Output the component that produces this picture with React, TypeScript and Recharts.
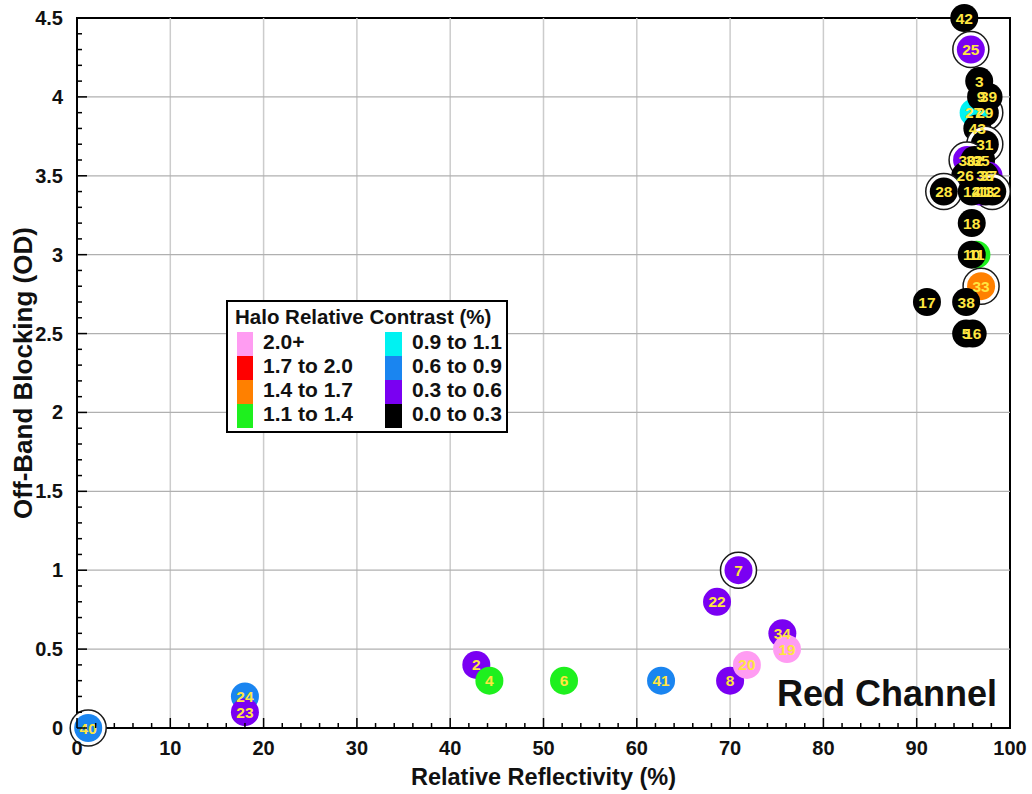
import React from 'react';
import { ScatterChart, Scatter, XAxis, YAxis, ReferenceLine, ReferenceArea, Label } from 'recharts';

// ---- data ----
const sampleLabels = ['42','25','3','29','27','9','39','43','31','30','32','35','37','26','36','28','12','21','14','13','18','11','10','33','17','38','5','16','7','22','34','19','8','20','41','6','2','4','24','23','40'];
const reflectivity = [95.1,95.8,96.7,97.3,96.1,96.9,97.7,96.5,97.3,95.4,96.2,96.9,97.7,95.2,97.3,92.9,98.1,96.8,95.9,97.4,95.9,96.4,95.9,96.9,91.1,95.3,95.3,96.0,70.9,68.6,75.6,76.1,70.0,71.8,62.6,52.2,42.8,44.2,18.0,18.0,1.2];
const blocking = [4.5,4.3,4.1,3.9,3.9,4.0,4.0,3.8,3.7,3.6,3.6,3.6,3.5,3.5,3.5,3.4,3.4,3.4,3.4,3.4,3.2,3.0,3.0,2.8,2.7,2.7,2.5,2.5,1.0,0.8,0.6,0.5,0.3,0.4,0.3,0.3,0.4,0.3,0.2,0.1,0.0];
// index into contrastCategories
const contrastGroup = [7,6,7,7,4,7,7,7,7,6,7,7,6,7,7,7,7,6,7,7,7,3,7,2,7,7,7,7,6,6,6,0,6,0,5,3,6,3,5,6,5];
const haloRing = [0,1,0,1,0,0,0,0,1,1,0,0,0,0,0,1,1,0,0,0,0,0,0,1,0,0,0,0,1,0,0,0,0,0,0,0,0,0,0,0,1];

const contrastCategories = ['2.0+','1.7 to 2.0','1.4 to 1.7','1.1 to 1.4','0.9 to 1.1','0.6 to 0.9','0.3 to 0.6','0.0 to 0.3'];
const categoryColors = ['#ff9cf2','#ff0000','#ff8000','#1ef01e','#00f2f2','#1a85f0','#7a00f2','#000000'];

const xMajorTicks = [0,10,20,30,40,50,60,70,80,90,100];
const xAllTicks = [0,2,4,6,8,10,12,14,16,18,20,22,24,26,28,30,32,34,36,38,40,42,44,46,48,50,52,54,56,58,60,62,64,66,68,70,72,74,76,78,80,82,84,86,88,90,92,94,96,98,100];
const yMajorTicks = [0,0.5,1,1.5,2,2.5,3,3.5,4,4.5];
const yAllTicks = [0,0.1,0.2,0.3,0.4,0.5,0.6,0.7,0.8,0.9,1,1.1,1.2,1.3,1.4,1.5,1.6,1.7,1.8,1.9,2,2.1,2.2,2.3,2.4,2.5,2.6,2.7,2.8,2.9,3,3.1,3.2,3.3,3.4,3.5,3.6,3.7,3.8,3.9,4,4.1,4.2,4.3,4.4,4.5];

const points = sampleLabels.map((label, i) => ({
  label,
  x: reflectivity[i],
  y: blocking[i],
  group: contrastGroup[i],
  halo: haloRing[i],
}));

const FONT = '"Liberation Sans", Arial, sans-serif';

const CircleShape = (props: any) => {
  const { cx, cy, payload } = props;
  if (cx == null || cy == null) return null;
  return (
    <g>
      {payload.halo ? <circle cx={cx} cy={cy} r={18} fill="#ffffff" stroke="#1a1a1a" strokeWidth={1.5} /> : null}
      <circle cx={cx} cy={cy} r={14} fill={categoryColors[payload.group]} />
    </g>
  );
};

const LabelShape = (props: any) => {
  const { cx, cy, payload } = props;
  if (cx == null || cy == null) return null;
  return (
    <text x={cx} y={cy + 5.5} textAnchor="middle" fontSize={15.5} fontWeight="bold" fill="#ffe640" fontFamily={FONT}>
      {payload.label}
    </text>
  );
};

const XTick = (props: any) => {
  const { x, y, payload } = props;
  const v = payload.value;
  const major = xMajorTicks.includes(v);
  return (
    <g>
      <line x1={x} x2={x} y1={y} y2={y - (major ? 10 : 5)} stroke="#000" strokeWidth={1.5} />
      {major ? (
        <text x={x} y={y + 27} textAnchor="middle" fontSize={20} fontWeight="bold" fill="#111" fontFamily={FONT}>{v}</text>
      ) : null}
    </g>
  );
};

const YTick = (props: any) => {
  const { x, y, payload } = props;
  const v = payload.value;
  const major = yMajorTicks.includes(v);
  return (
    <g>
      <line x1={x} x2={x + (major ? 10 : 5)} y1={y} y2={y} stroke="#000" strokeWidth={1.5} />
      {major ? (
        <text x={x - 14} y={y + 7} textAnchor="end" fontSize={20} fontWeight="bold" fill="#111" fontFamily={FONT}>{String(v)}</text>
      ) : null}
    </g>
  );
};

const LegendBox = () => (
  <div style={{
    position: 'absolute', left: 226, top: 300, width: 282, height: 133, boxSizing: 'border-box',
    border: '2px solid #000', background: '#fff', fontFamily: FONT, fontWeight: 'bold', color: '#111',
  }}>
    <div style={{ position: 'absolute', left: 7, top: 3, fontSize: 20.5, lineHeight: '24px', whiteSpace: 'nowrap' }}>
      Halo Relative Contrast (%)
    </div>
    {contrastCategories.map((c, i) => {
      const col = i < 4 ? 0 : 1;
      const row = i % 4;
      const top = 30 + row * 24;
      return (
        <React.Fragment key={c}>
          <div style={{ position: 'absolute', left: col ? 157 : 9, top, width: col ? 17 : 16, height: 24, background: categoryColors[i] }} />
          <div style={{ position: 'absolute', left: col ? 184 : 35, top: top - 2, fontSize: 21, lineHeight: '24px', whiteSpace: 'nowrap' }}>{c}</div>
        </React.Fragment>
      );
    })}
  </div>
);

export default function App() {
  return (
    <div style={{ position: 'absolute', left: 0, top: 0, width: 1032, height: 794, background: '#fff' }}>
      <ScatterChart width={1032} height={794} margin={{ top: 18, right: 22, bottom: 0, left: 0 }} style={{ fontFamily: FONT }}>
        <XAxis
          dataKey="x" type="number" domain={[0, 100]} ticks={xAllTicks} interval={0}
          tickLine={false} tickSize={0} tickMargin={0} height={66}
          axisLine={{ stroke: '#000', strokeWidth: 2 }} tick={<XTick />}
        >
          <Label value="Relative Reflectivity (%)" position="insideBottom" offset={9}
            style={{ fontSize: 23.5, fontWeight: 'bold', fill: '#111', fontFamily: FONT }} />
        </XAxis>
        <YAxis
          dataKey="y" type="number" domain={[0, 4.5]} ticks={yAllTicks} interval={0}
          tickLine={false} tickSize={0} tickMargin={0} width={77}
          axisLine={{ stroke: '#000', strokeWidth: 2 }} tick={<YTick />}
        >
          <Label value="Off-Band Blocking (OD)" position="insideLeft" angle={-90} offset={23}
            style={{ fontSize: 26, fontWeight: 'bold', fill: '#111', fontFamily: FONT, textAnchor: 'middle' }} />
        </YAxis>
        {xMajorTicks.slice(1, -1).map((v) => (
          <ReferenceLine key={'gx' + v} x={v} stroke="#cccccc" strokeWidth={1.5} />
        ))}
        {yMajorTicks.slice(1, -1).map((v) => (
          <ReferenceLine key={'gy' + v} y={v} stroke="#b0b0b0" strokeWidth={1.2} />
        ))}
        <ReferenceArea x1={0} x2={100} y1={0} y2={4.5} fill="none" fillOpacity={0} stroke="#000" strokeWidth={2} />
        <Scatter data={points} isAnimationActive={false} shape={<CircleShape />} />
        <Scatter data={points} isAnimationActive={false} shape={<LabelShape />} />
      </ScatterChart>
      <LegendBox />
      <div style={{
        position: 'absolute', right: 35, top: 676, fontSize: 36, lineHeight: '36px', fontWeight: 'bold',
        fontFamily: FONT, color: '#111', whiteSpace: 'nowrap',
      }}>Red Channel</div>
    </div>
  );
}
